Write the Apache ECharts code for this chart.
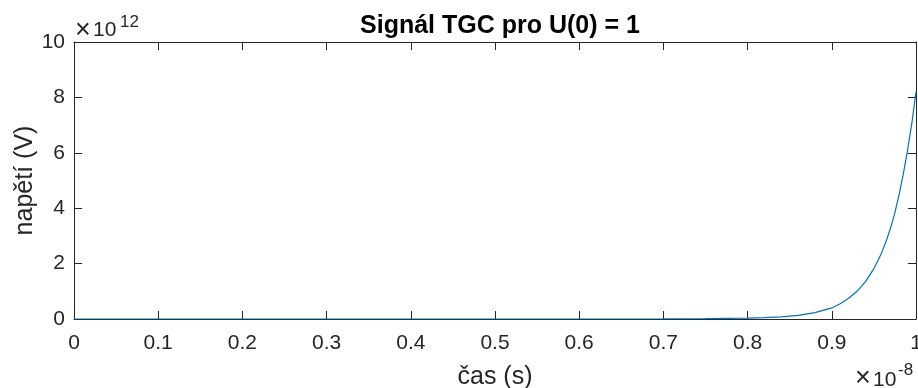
<!DOCTYPE html>
<html>
<head>
<meta charset="utf-8">
<script src="https://cdn.jsdelivr.net/npm/echarts@6/dist/echarts.min.js"></script>
<style>html,body{margin:0;padding:0;background:#fff}#c{width:918px;height:388px}</style>
</head>
<body>
<div id="c"></div>
<script>
// time in units of 1e-8 s, voltage in units of 1e12 V
const timeValues = [0, 0.1, 0.2, 0.3, 0.4, 0.5, 0.6, 0.7, 0.75, 0.8, 0.82, 0.84, 0.86, 0.88, 0.9, 0.91, 0.92, 0.93, 0.94, 0.95, 0.955, 0.96, 0.965, 0.97, 0.975, 0.98, 0.985, 0.99, 0.995, 1.0];
const voltageValues = [0, 0, 0, 0, 0, 0, 0.0005, 0.003, 0.01, 0.03, 0.05, 0.08, 0.13, 0.23, 0.40, 0.55, 0.75, 1.0, 1.35, 1.82, 2.12, 2.45, 2.85, 3.3, 3.85, 4.5, 5.25, 6.1, 7.05, 8.2];
const xTicks = [0, 0.1, 0.2, 0.3, 0.4, 0.5, 0.6, 0.7, 0.8, 0.9, 1];
const yTicks = [0, 2, 4, 6, 8, 10];
const titleText = 'Signál TGC pro U(0) = 1';
const xName = 'čas (s)';
const yName = 'napětí (V)';
const yExponent = '12';
const xExponent = '-8';

const axisColor = '#262626';
const font = 'Liberation Sans, Arial, Helvetica, sans-serif';
const chart = echarts.init(document.getElementById('c'), null, {renderer: 'canvas'});
const data = timeValues.map((t, i) => [t, voltageValues[i]]);

function tick() {
  return {show: true, inside: true, length: 8, lineStyle: {color: axisColor, width: 1}};
}
function line() {
  return {show: true, onZero: false, lineStyle: {color: axisColor, width: 1}};
}
function xAx(pos, labels) {
  return {
    type: 'value', min: xTicks[0], max: xTicks[xTicks.length - 1], interval: 0.1,
    position: pos, axisLine: line(), axisTick: tick(), splitLine: {show: false},
    axisLabel: labels ? {show: true, margin: 14, fontFamily: font, fontSize: 21, color: axisColor,
      formatter: v => (Math.abs(v - 1) < 1e-9 ? '1' : (Math.abs(v) < 1e-9 ? '0' : v.toFixed(1)))} : {show: false}
  };
}
function yAx(pos, labels) {
  return {
    type: 'value', min: yTicks[0], max: yTicks[yTicks.length - 1], interval: 2,
    position: pos, axisLine: line(), axisTick: tick(), splitLine: {show: false},
    axisLabel: labels ? {show: true, margin: 9, fontFamily: font, fontSize: 21, color: axisColor} : {show: false}
  };
}

const xBottom = Object.assign(xAx('bottom', true), {
  name: xName, nameLocation: 'middle', nameGap: 46, nameMoveOverlap: false,
  nameTextStyle: {fontFamily: font, fontSize: 25, color: axisColor}
});
const yLeft = Object.assign(yAx('left', true), {
  name: yName, nameLocation: 'middle', nameGap: 36, nameRotate: 90, nameMoveOverlap: false,
  nameTextStyle: {fontFamily: font, fontSize: 25, color: axisColor}
});

function txt(s, x, y, fs) {
  return {type: 'text', left: x, top: y, style: {text: s, fontFamily: font, fontSize: fs, fill: axisColor}};
}

chart.setOption({
  animation: false,
  backgroundColor: '#fff',
  title: {
    text: titleText, left: 495, top: 9, textAlign: 'center',
    textStyle: {fontFamily: font, fontWeight: 'bold', fontSize: 25, color: '#000'}
  },
  grid: {left: 74, right: 2, top: 42, bottom: 69, containLabel: false, outerBoundsMode: 'none'},
  xAxis: [xBottom, xAx('top', false)],
  yAxis: [yLeft, yAx('right', false)],
  series: [{
    type: 'line', data: data, xAxisIndex: 0, yAxisIndex: 0,
    showSymbol: false, smooth: false,
    lineStyle: {color: '#0072BD', width: 1.2},
    clip: true
  }],
  graphic: [
    txt('×', 75, 17, 27), txt('10', 93, 20, 21), txt(yExponent, 120, 14, 17),
    txt('×', 855, 365, 27), txt('10', 873, 370, 21), txt(xExponent, 898, 362, 17)
  ]
});
</script>
</body>
</html>
